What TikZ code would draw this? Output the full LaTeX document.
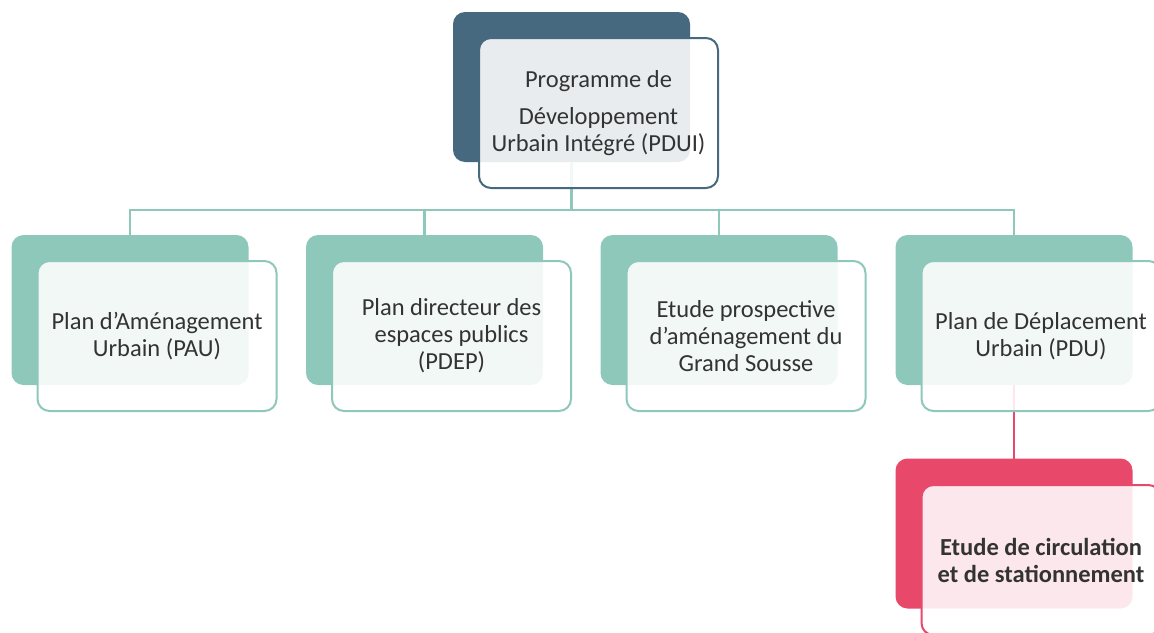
\documentclass[tikz,border=0pt]{standalone}
\usepackage{fontspec}
\setmainfont{Carlito}
\definecolor{cNavy}{HTML}{46697F}
\definecolor{cTeal}{HTML}{8DC8BB}
\definecolor{cRed}{HTML}{E8486A}
\definecolor{cText}{HTML}{333333}
\tikzset{
  backbox/.style={rectangle, rounded corners=12pt, minimum width=237pt, minimum height=150pt, inner sep=0pt, outer sep=0pt},
  frontbox/.style={rectangle, rounded corners=12pt, minimum width=239pt, minimum height=150pt, inner sep=0pt, outer sep=0pt, line width=2pt, fill=white, fill opacity=0.88, text opacity=1, text=cText, align=center, font=\fontsize{24.5}{27}\selectfont},
  conn/.style={line width=2.2pt, draw=cTeal},
}
\begin{document}
\begin{tikzpicture}[x=1pt, y=-1pt]
\useasboundingbox (0,0) rectangle (1154,632);
% back boxes
\node[backbox, fill=cNavy] (b0) at (571.5,87) {};
\node[backbox, fill=cTeal] (b1) at (130,310) {};
\node[backbox, fill=cTeal] (b2) at (424.5,310) {};
\node[backbox, fill=cTeal] (b3) at (719,310) {};
\node[backbox, fill=cTeal] (b4) at (1014,310) {};
\node[backbox, fill=cRed] (b5) at (1014,533.5) {};
% connectors
\coordinate (bus) at (0,210);
\draw[conn] (b0.south) -- (b0.south |- bus) -| (b1.north);
\draw[conn] (b0.south |- bus) -| (b2.north);
\draw[conn] (b0.south |- bus) -| (b3.north);
\draw[conn] (b0.south |- bus) -| (b4.north);
\draw[conn, draw=cRed] (b4.south) -- (b5.north);
% front boxes
\node[frontbox, draw=cNavy] (f0) at (598.5,113) {Programme de\\[10pt]Développement\\Urbain Intégré (PDUI)};
\node[frontbox, draw=cTeal] (f1) at (157,336) {Plan d’Aménagement\\Urbain (PAU)};
\node[frontbox, draw=cTeal] (f2) at (451.5,336) {Plan directeur des\\espaces publics\\(PDEP)};
\node[frontbox, draw=cTeal] (f3) at (746,336) {Etude prospective\\d’aménagement du\\Grand Sousse};
\node[frontbox, draw=cTeal] (f4) at (1041,336) {Plan de Déplacement\\Urbain (PDU)};
\node[frontbox, draw=cRed, font=\fontsize{24.5}{27}\selectfont\bfseries] (f5) at (1041,560) {Etude de circulation\\et de stationnement};
\end{tikzpicture}
\end{document}
